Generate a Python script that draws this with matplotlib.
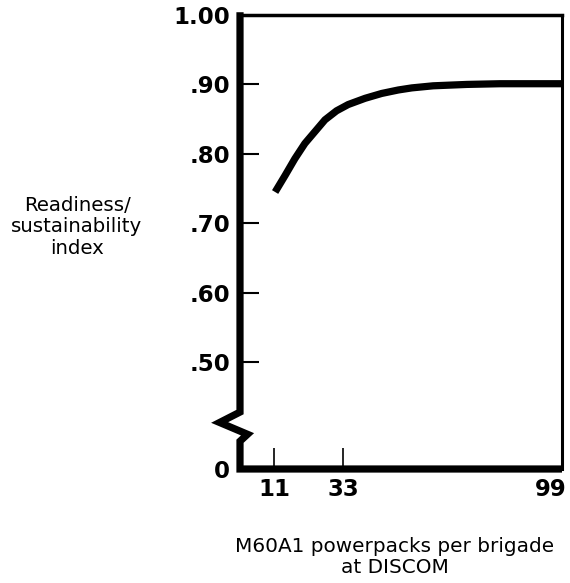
import matplotlib
matplotlib.use("Agg")
import matplotlib.pyplot as plt
from matplotlib.lines import Line2D

# data
powerpacks = [11.2, 14.4, 17.5, 20.7, 23.9, 27.1, 30.8, 34.5, 39.9, 45.2, 50.5, 54.8,
              61.6, 72.4, 82.9, 93.5, 102.7]
index_vals = [0.745, 0.769, 0.793, 0.815, 0.832, 0.849, 0.862, 0.871, 0.880, 0.887, 0.892, 0.895,
              0.898, 0.900, 0.901, 0.901, 0.901]

x_ticks = [11, 33, 99]
x_labels = ["11", "33", "99"]
y_ticks = [0.5, 0.6, 0.7, 0.8, 0.9, 1.0]
y_labels = [".50", ".60", ".70", ".80", ".90", "1.00"]

# the y axis is broken: the bottom of the axis stands for 0
y_bottom = 0.346
x_max = 102.7

fig = plt.figure(figsize=(5.7, 5.83), dpi=100)
ax = fig.add_axes([240/570, 1 - 469/583, (562 - 240)/570, (469 - 15)/583])

ax.plot(powerpacks, index_vals, color="black", lw=5.2,
        solid_capstyle="butt", solid_joinstyle="round")

ax.set_xlim(0, x_max)
ax.set_ylim(y_bottom, 1.0)

# left spine with the zigzag break, plus the thick bottom spine
ax.spines["left"].set_visible(False)
ax.spines["bottom"].set_visible(False)
ax.spines["top"].set_linewidth(2.5)
ax.spines["right"].set_linewidth(2.2)
brk_x = [0, 0, -6.5, 2.4, 0, 0, x_max]
brk_y = [1.004, 0.428, 0.413, 0.396, 0.386, y_bottom, y_bottom]
ax.add_line(Line2D(brk_x, brk_y, color="black", lw=5.2, clip_on=False,
                   solid_joinstyle="miter", solid_capstyle="butt"))

ax.set_yticks([y_bottom] + y_ticks)
ax.set_yticklabels(["0"] + y_labels)
ax.set_xticks(x_ticks)
ax.set_xticklabels(x_labels)

tick_font = dict(family="DejaVu Sans", weight="bold", size=16.5)
for lab in ax.get_xticklabels() + ax.get_yticklabels():
    lab.set_fontproperties(tick_font)

ax.tick_params(axis="y", direction="in", length=14, width=1.5, pad=7)
ax.tick_params(axis="x", direction="in", length=15, width=1.2, pad=6.5)
# no tick mark at 0, 1.00 or 99
ax.yaxis.get_major_ticks()[0].tick1line.set_visible(False)
ax.yaxis.get_major_ticks()[-1].tick1line.set_visible(False)
ax.xaxis.get_major_ticks()[2].tick1line.set_visible(False)

fig.text(77/570, 1 - 227/583, "Readiness/\nsustainability\nindex", ha="center", va="center",
         fontsize=14.2, family="DejaVu Sans", linespacing=1.15)
fig.text(395/570, 1 - 557/583, "M60A1 powerpacks per brigade\nat DISCOM", ha="center", va="center",
         fontsize=14.4, family="DejaVu Sans", linespacing=1.15)

fig.savefig("out.png", dpi=100)
